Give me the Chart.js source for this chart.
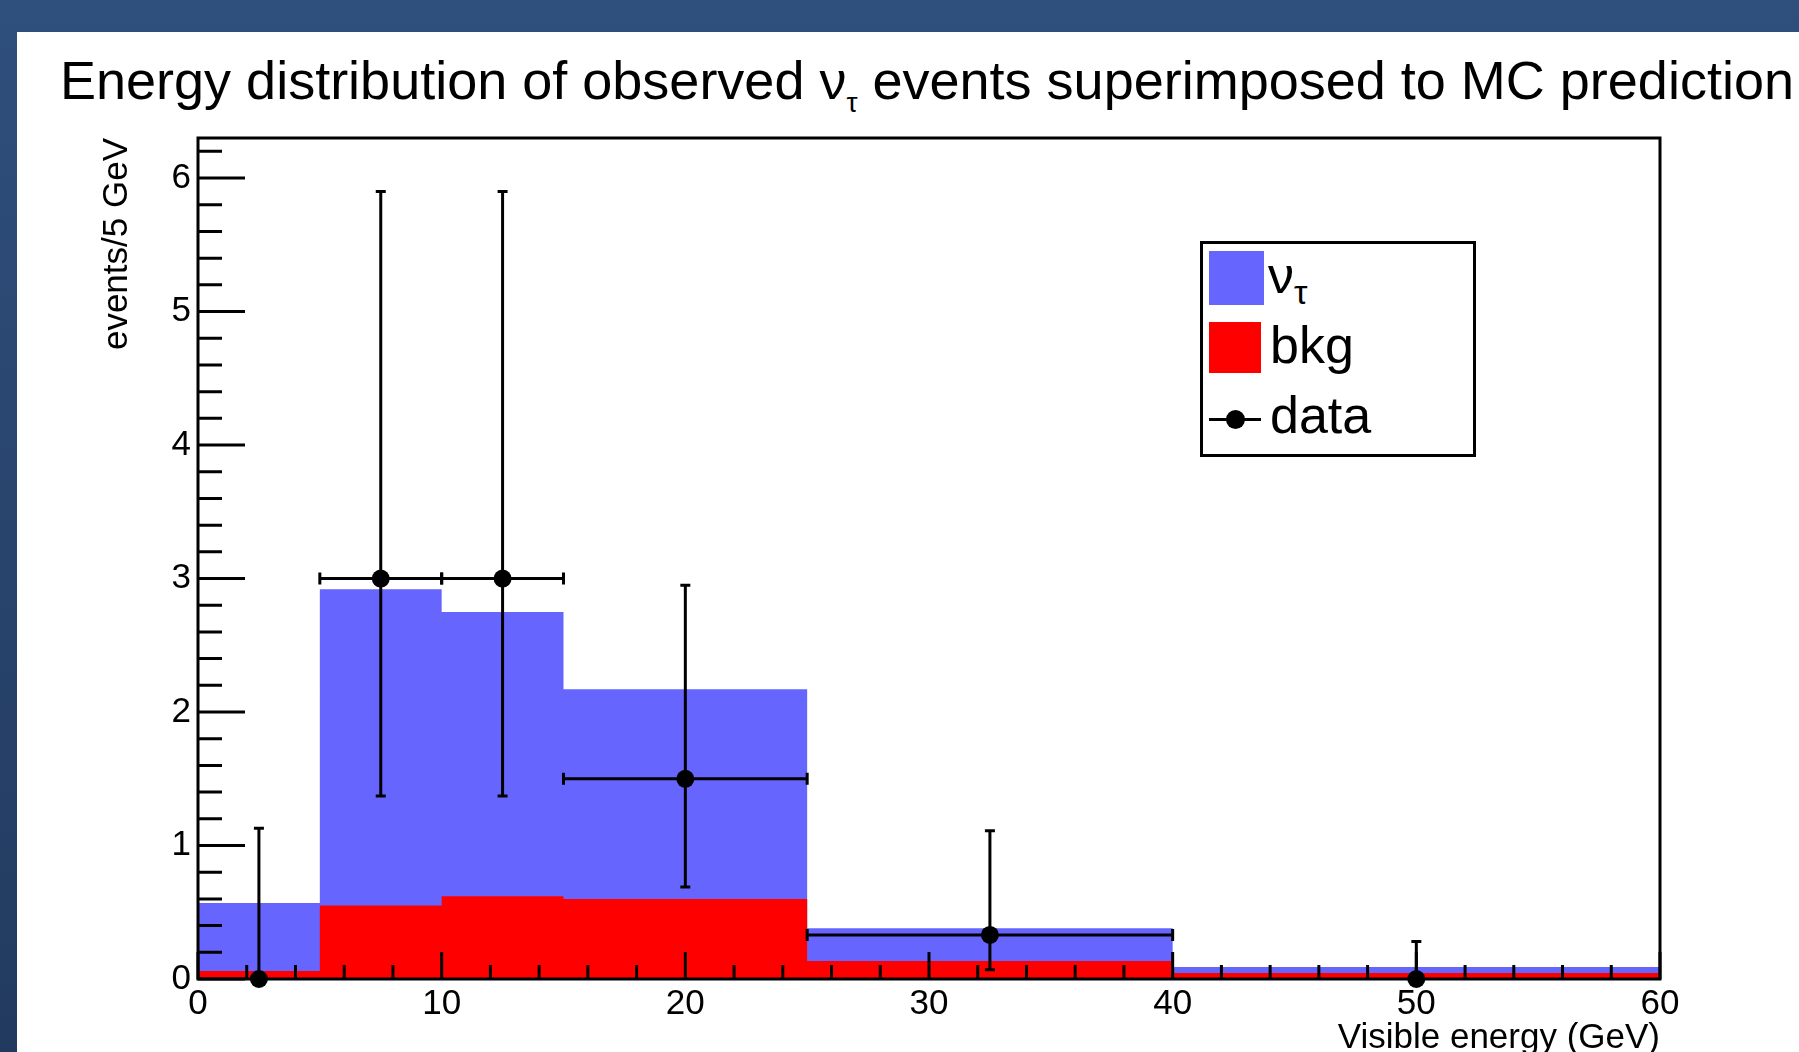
<!DOCTYPE html>
<html>
<head>
<meta charset="utf-8">
<script src="https://cdn.jsdelivr.net/npm/chart.js@4.4.1/dist/chart.umd.min.js"></script>
<style>
  html, body { margin: 0; padding: 0; overflow: hidden; }
  body {
    width: 1799px; height: 1052px; position: relative;
    background: linear-gradient(to bottom, #2f4f7c, #223a5f);
    font-family: "Liberation Sans", Arial, sans-serif;
  }
  #panel { position: absolute; left: 17px; top: 32px; right: 0; bottom: 0; background: #fff; }
  #title {
    position: absolute; left: 60px; top: 53px; font-size: 54px; line-height: 54px;
    white-space: nowrap; color: #000;
  }
  #title .sub { font-size: 28px; position: relative; top: 13px; color: #000; }
  #wrap { position: absolute; left: 0; top: 0; width: 1799px; height: 1080px; }
  #legend {
    position: absolute; left: 1200px; top: 241px; width: 276px; height: 216px;
    box-sizing: border-box; border: 3px solid #000; background: #fff; z-index: 2;
  }
  .lg { position: absolute; font-size: 52px; line-height: 52px; color: #000; white-space: nowrap; z-index: 3; }
  .sw { position: absolute; z-index: 3; }
</style>
</head>
<body>
<div id="panel"></div>
<div id="title">Energy distribution of observed ν<span class="sub">τ</span> events superimposed to MC prediction</div>
<div id="wrap"><canvas id="chart" width="1799" height="1080"></canvas></div>
<div id="legend"></div>
<div class="sw" style="left:1209px; top:251px; width:55px; height:54px; background:#6666ff;"></div>
<div class="lg" style="left:1268px; top:249px;">ν<span style="font-size:34px; position:relative; top:11px;">τ</span></div>
<div class="sw" style="left:1209px; top:322px; width:52px; height:51px; background:#ff0000;"></div>
<div class="lg" style="left:1270px; top:319px;">bkg</div>
<div class="sw" style="left:1209px; top:418px; width:52px; height:3px; background:#000;"></div>
<div class="sw" style="left:1226px; top:410px; width:19px; height:19px; border-radius:50%; background:#000;"></div>
<div class="lg" style="left:1270px; top:389px;">data</div>
<script>
// histogram bins (GeV) and contents, events/5 GeV
const binEdges = [0, 5, 10, 15, 25, 40, 60];
const nuTau = [0.51, 2.37, 2.13, 1.57, 0.245, 0.045];
const bkg = [0.06, 0.55, 0.62, 0.60, 0.135, 0.045];

// observed events with error bars
const dataX = [2.5, 7.5, 12.5, 20, 32.5, 50];
const dataY = [0, 3, 3, 1.5, 0.33, 0];
const dataYLow = [0, 1.37, 1.37, 0.69, 0.07, 0];
const dataYHigh = [1.13, 5.9, 5.9, 2.95, 1.11, 0.28];
const dataXLow = [0, 5, 10, 15, 25, 40];
const dataXHigh = [5, 10, 15, 25, 40, 60];

const xTicks = [0, 10, 20, 30, 40, 50, 60];
const yTicks = [0, 1, 2, 3, 4, 5, 6];

const total = nuTau.map((v, i) => v + bkg[i]);

function stepPoints(vals) {
  return binEdges.map((x, i) => ({ x: x, y: vals[Math.min(i, vals.length - 1)] }));
}

const font = { family: '"Liberation Sans", Arial, sans-serif', size: 35 };

// ROOT-like frame and inside ticks
const frameTicks = {
  id: 'frameTicks',
  afterDatasetsDraw(chart) {
    const { ctx, chartArea: a, scales: { x, y } } = chart;
    ctx.save();
    ctx.strokeStyle = '#000';
    ctx.lineWidth = 3;
    ctx.beginPath();
    for (let k = 0; k <= 31; k++) {
      const py = y.getPixelForValue(k / 5);
      const len = k % 5 === 0 ? 47 : 24;
      ctx.moveTo(a.left, py);
      ctx.lineTo(a.left + len, py);
    }
    for (let k = 0; k <= 30; k++) {
      const px = x.getPixelForValue(k * 2);
      const len = k % 5 === 0 ? 27 : 14;
      ctx.moveTo(px, a.bottom);
      ctx.lineTo(px, a.bottom - len);
    }
    ctx.stroke();
    ctx.strokeRect(a.left, a.top, a.right - a.left, a.bottom - a.top);
    ctx.restore();
  }
};

const errorBars = {
  id: 'errorBars',
  afterDatasetsDraw(chart) {
    const { ctx, scales: { x, y } } = chart;
    ctx.save();
    ctx.strokeStyle = '#000';
    ctx.lineWidth = 3;
    dataX.forEach((xv, i) => {
      const px = x.getPixelForValue(xv);
      const py = y.getPixelForValue(dataY[i]);
      const lo = y.getPixelForValue(dataYLow[i]);
      const hi = y.getPixelForValue(dataYHigh[i]);
      ctx.beginPath();
      ctx.moveTo(px, lo); ctx.lineTo(px, hi);
      ctx.moveTo(px - 5, hi); ctx.lineTo(px + 5, hi);
      if (dataYLow[i] > 0) { ctx.moveTo(px - 5, lo); ctx.lineTo(px + 5, lo); }
      if (dataY[i] > 0) {
        const xl = x.getPixelForValue(dataXLow[i]);
        const xh = x.getPixelForValue(dataXHigh[i]);
        ctx.moveTo(xl, py); ctx.lineTo(xh, py);
        ctx.moveTo(xl, py - 6); ctx.lineTo(xl, py + 6);
        ctx.moveTo(xh, py - 6); ctx.lineTo(xh, py + 6);
      }
      ctx.stroke();
    });
    ctx.restore();
  }
};

new Chart(document.getElementById('chart'), {
  type: 'line',
  data: {
    datasets: [
      {
        label: 'bkg', data: stepPoints(bkg), order: 1,
        stepped: true, fill: 'origin', backgroundColor: '#ff0000',
        borderWidth: 0, pointRadius: 0
      },
      {
        label: 'ντ', data: stepPoints(total), order: 2,
        stepped: true, fill: 'origin', backgroundColor: '#6666ff',
        borderWidth: 0, pointRadius: 0
      },
      {
        type: 'scatter', label: 'data', order: 0, clip: false,
        data: dataX.map((x, i) => ({ x: x, y: dataY[i] })),
        pointStyle: 'circle', pointRadius: 9, backgroundColor: '#000', borderWidth: 0
      }
    ]
  },
  options: {
    responsive: false,
    animation: false,
    devicePixelRatio: 1,
    layout: { padding: { top: 138, right: 139, left: 0, bottom: 0 } },
    plugins: { legend: { display: false }, tooltip: { enabled: false } },
    scales: {
      x: {
        type: 'linear', min: 0, max: 60,
        afterBuildTicks: s => { s.ticks = xTicks.map(v => ({ value: v })); },
        afterFit: s => { s.height = 101; },
        grid: { display: false, drawTicks: false },
        border: { display: false },
        ticks: { color: '#000', font: font, padding: 4, maxRotation: 0 },
        title: {
          display: true, text: 'Visible energy (GeV)', align: 'end', color: '#000',
          font: font, padding: { top: 0, bottom: 21 }
        }
      },
      y: {
        type: 'linear', min: 0, max: 6.3,
        afterBuildTicks: s => { s.ticks = yTicks.map(v => ({ value: v })); },
        afterFit: s => { s.width = 198; },
        grid: { display: false, drawTicks: false },
        border: { display: false },
        ticks: { color: '#000', font: font, padding: 7 },
        title: {
          display: true, text: 'events/5 GeV', align: 'end', color: '#000',
          font: font, padding: { top: 96, bottom: 0 }
        }
      }
    }
  },
  plugins: [frameTicks, errorBars]
});
</script>
</body>
</html>
